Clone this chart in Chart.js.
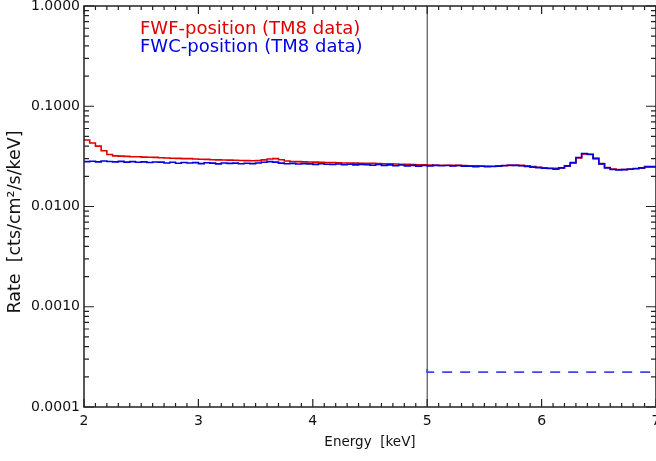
<!DOCTYPE html>
<html><head><meta charset="utf-8">
<script src="https://cdn.jsdelivr.net/npm/chart.js@4.4.1/dist/chart.umd.min.js"></script>
<style>html,body{margin:0;padding:0;background:#fff;overflow:hidden}#wrap{width:656px;height:461px}</style>
</head><body><div id="wrap"><canvas id="c" width="656" height="461"></canvas></div>
<script>
const binStart = 2.0, binWidth = 0.05;
const fwfRate = [0.048,0.046,0.043,0.040,0.036,0.033,0.032,0.0318,0.0316,0.0314,0.0313,0.0311,0.031,0.0309,0.0306,0.0305,0.0303,0.0302,0.0300,0.0300,
0.0298,0.0296,0.0295,0.0293,0.0292,0.0291,0.0290,0.0289,0.0288,0.0287,0.0286,0.0287,0.0292,0.0298,0.0300,0.0293,0.0284,0.0281,0.0280,0.0279,
0.0278,0.0277,0.0276,0.0275,0.0274,0.0273,0.0272,0.0272,0.0271,0.0270,0.0270,0.0269,0.0268,0.0267,0.0266,0.0265,0.0264,0.0263,0.0262,0.0261,
0.0260,0.0259,0.0258,0.0258,0.0258,0.0257,0.0257,0.0256,0.0255,0.0254,0.0253,0.0252,0.0252,0.0253,0.0255,0.0257,0.0258,0.0257,0.0254,0.0250,
0.0246,0.0243,0.0241,0.0240,0.0242,0.0252,0.0272,0.0305,0.0335,0.0330,0.0300,0.0268,0.0245,0.0236,0.0234,0.0234,0.0236,0.0238,0.0241,0.0248];
const fwcRate = [0.0285,0.0280,0.0283,0.0279,0.0284,0.0281,0.0279,0.0282,0.0277,0.0280,0.0276,0.0279,0.0275,0.0278,0.0277,0.0272,0.0276,0.0270,0.0275,0.0272,
0.0274,0.0268,0.0273,0.0271,0.0266,0.0272,0.0269,0.0271,0.0267,0.0270,0.0268,0.0272,0.0276,0.0280,0.0277,0.0271,0.0267,0.0269,0.0265,0.0268,
0.0266,0.0263,0.0267,0.0264,0.0262,0.0265,0.0261,0.0264,0.0260,0.0263,0.0261,0.0258,0.0262,0.0257,0.0260,0.0255,0.0259,0.0254,0.0257,0.0253,
0.0256,0.0254,0.0257,0.0255,0.0256,0.0254,0.0256,0.0253,0.0252,0.0250,0.0252,0.0250,0.0251,0.0253,0.0256,0.0258,0.0257,0.0255,0.0251,0.0247,
0.0244,0.0241,0.0239,0.0236,0.0243,0.0254,0.0274,0.0308,0.0338,0.0332,0.0302,0.0266,0.0243,0.0234,0.0232,0.0233,0.0235,0.0239,0.0243,0.0250];
const levelEdges = [5, 6, 7];
const levelRate = [0.000239, 0.000223];
const markerEnergy = 5;
const xTicks = [2,3,4,5,6,7];
const yTicks = [0.0001,0.001,0.01,0.1,1];
const yTickLabels = ['0.0001','0.0010','0.0100','0.1000','1.0000'];
const legendLabels = ['FWF-position (TM8 data)','FWC-position (TM8 data)'];
const yTitle = 'Rate  [cts/cm²/s/keV]';

function steps(arr){
  const pts = arr.map((v,i)=>({x: +(binStart+i*binWidth).toFixed(3), y: v}));
  pts.push({x: +(binStart+arr.length*binWidth).toFixed(3), y: arr[arr.length-1]});
  return pts;
}
const levelPts = levelEdges.map((e,i)=>({x:e, y: levelRate[Math.min(i, levelRate.length-1)]}));

const FONT = '"DejaVu Sans", sans-serif';
const axisPlugin = {
  id:'axisPlugin',
  afterDatasetsDraw(chart){
    const {ctx, chartArea:a, scales:{x,y}} = chart;
    ctx.save();
    ctx.strokeStyle = '#222'; ctx.lineWidth = 1.5;
    ctx.strokeRect(a.left, a.top, a.right-a.left, a.bottom-a.top);
    ctx.lineWidth = 1.2;
    ctx.beginPath();
    for(let i=0;i<=50;i++){
      const v = 2 + i*0.1; const px = x.getPixelForValue(v);
      const L = (i%10===0)?8:4;
      ctx.moveTo(px,a.bottom); ctx.lineTo(px,a.bottom-L);
      ctx.moveTo(px,a.top); ctx.lineTo(px,a.top+L);
    }
    for(let d=-4; d<0; d++){
      for(let m=1;m<=10;m++){
        const v = m*Math.pow(10,d); const py = y.getPixelForValue(v);
        const L = (m===1||m===10)?10:5;
        ctx.moveTo(a.left,py); ctx.lineTo(a.left+L,py);
        ctx.moveTo(a.right,py); ctx.lineTo(a.right-L,py);
      }
    }
    ctx.stroke();
    ctx.font = '18px '+FONT; ctx.textBaseline='alphabetic'; ctx.textAlign='left';
    ctx.fillStyle = '#e00000'; ctx.fillText(legendLabels[0], 140, 34);
    ctx.fillStyle = '#0000e0'; ctx.fillText(legendLabels[1], 140, 52);
    ctx.translate(15, 222); ctx.rotate(-Math.PI/2);
    ctx.font = '17.5px '+FONT; ctx.textAlign='center'; ctx.textBaseline='middle';
    ctx.fillStyle = '#111'; ctx.fillText(yTitle, 0, 0);
    ctx.restore();
  }
};

new Chart(document.getElementById('c'), {
  type:'line',
  data:{datasets:[
    {data: steps(fwfRate), borderColor:'#e00000', borderWidth:1.6, stepped:'after', pointRadius:0, order:2},
    {data: steps(fwcRate), borderColor:'#0000e0', borderWidth:1.6, stepped:'after', pointRadius:0, order:1},
    {data: levelPts, borderColor:'#4545e8', borderWidth:1.8, borderDash:[10,8], stepped:'after', pointRadius:0, order:0},
    {data: [{x:markerEnergy,y:1e-4},{x:markerEnergy,y:1}], borderColor:'#333', borderWidth:1, pointRadius:0, order:3}
  ]},
  plugins:[axisPlugin],
  options:{
    responsive:false, animation:false, devicePixelRatio:1,
    layout:{padding:{left:0,top:6,right:0,bottom:0}},
    plugins:{legend:{display:false}, tooltip:{enabled:false}},
    scales:{
      x:{type:'linear', min:2, max:7,
        grid:{display:false, drawTicks:false}, border:{display:false},
        afterBuildTicks(s){ s.ticks = xTicks.map(v=>({value:v})); },
        ticks:{padding:6, color:'#111', font:{size:14, family:FONT}, maxRotation:0, callback:v=>String(v)},
        title:{display:true, text:'Energy  [keV]', color:'#111', font:{size:13.5, family:FONT}, padding:{top:0,bottom:10}},
        afterFit(s){ s.height = 54; s.paddingLeft=0; s.paddingRight=0; }
      },
      y:{type:'logarithmic', min:0.0001, max:1,
        grid:{display:false, drawTicks:false}, border:{display:false},
        afterBuildTicks(s){ s.ticks = yTicks.map(v=>({value:v})); },
        ticks:{padding:4, color:'#111', font:{size:14, family:FONT}, autoSkip:false,
          callback:(v)=>{ const i = yTicks.findIndex(t=>Math.abs(t-v)/t<1e-6); return i>=0?yTickLabels[i]:''; }},
        title:{display:false},
        afterFit(s){ s.width = 84; s.paddingTop=0; s.paddingBottom=0; }
      }
    }
  }
});
</script></body></html>
